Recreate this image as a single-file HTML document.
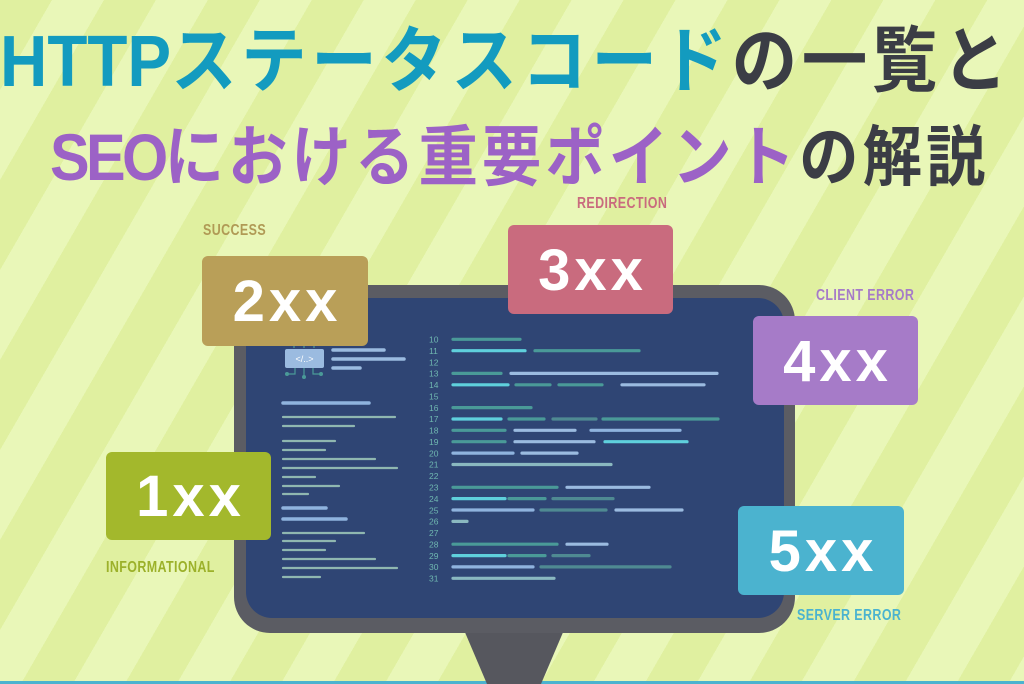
<!DOCTYPE html>
<html><head><meta charset="utf-8"><style>
html,body{margin:0;padding:0}
body{width:1024px;height:684px;overflow:hidden;position:relative;
background:repeating-linear-gradient(120deg,#e0f0a0 0px,#e0f0a0 45px,#e9f7b8 45px,#e9f7b8 90px);
font-family:"Liberation Sans","Noto Sans CJK JP",sans-serif}
.t{position:absolute;font-weight:bold;white-space:nowrap;font-family:"Liberation Sans","Noto Sans CJK JP",sans-serif;transform-origin:left top}
.lab{position:absolute;font-weight:bold;font-size:16px;white-space:nowrap;transform:scaleX(0.78);transform-origin:left top;letter-spacing:0.5px;font-family:"Liberation Sans Narrow","Liberation Sans",sans-serif}
.b{position:absolute;border-radius:6px;color:#fff;font-weight:bold;font-size:58px;text-align:center;font-family:"Liberation Sans",sans-serif;letter-spacing:4px;text-indent:4px}
</style></head><body>
<div class="t" style="left:0;top:2px;font-size:72px;color:#139bbf;transform:scaleX(0.91)">HTTP<span style="letter-spacing:5px">ステータスコード</span><span style="color:#3b3d45;letter-spacing:5px">の一覧と</span></div>
<div class="t" style="left:50px;top:104px;font-size:66px;color:#9c62c6;transform:scaleX(0.9)"><span style="letter-spacing:-4px">SEO</span><span style="letter-spacing:4.5px">における重要ポイント</span><span style="color:#3b3d45;letter-spacing:4.5px">の解説</span></div>

<svg style="position:absolute;left:0;top:0" width="1024" height="684">
<rect x="0" y="681" width="1024" height="3" fill="#4bb3cf"/>
<polygon points="464,630 564,630 541,684 487,684" fill="#56575e"/>
<rect x="234" y="285" width="561" height="348" rx="36" fill="#5b5c63"/>
<rect x="246" y="298" width="538" height="320" rx="26" fill="#2f4574"/>
<g stroke="#4a9a98" stroke-width="1.2" fill="none"><path d="M294,348 v-4 M304,348 v-4 M314,348 v-4 M295,368 v6 h-7 M304,368 v9 M313,368 v6 h7"/></g>
<circle cx="287" cy="374" r="2" fill="#4a9a98"/><circle cx="304" cy="377" r="2" fill="#4a9a98"/><circle cx="321" cy="374" r="2" fill="#4a9a98"/>
<rect x="285" y="349" width="39" height="19" rx="2" fill="#9bbbe0"/>
<text x="304.5" y="362" font-size="9" fill="#fff" text-anchor="middle" font-family="Liberation Sans">&lt;/..&gt;</text>
<g stroke-linecap="round" stroke-width="3.5">
<line x1="333" y1="350" x2="384" y2="350" stroke="#9bbbe0"/>
<line x1="333" y1="359" x2="404" y2="359" stroke="#9bbbe0"/>
<line x1="333" y1="368" x2="360" y2="368" stroke="#9bbbe0"/>
<line x1="283" y1="403" x2="369" y2="403" stroke="#8fb3de"/>
<line x1="283" y1="508" x2="326" y2="508" stroke="#8fb3de"/>
<line x1="283" y1="519" x2="346" y2="519" stroke="#8fb3de"/>
</g>
<g stroke-linecap="round" stroke-width="2.2" stroke="#8fb7b0">
<line x1="283" y1="417" x2="395" y2="417"/><line x1="283" y1="426" x2="354" y2="426"/>
<line x1="283" y1="441" x2="335" y2="441"/><line x1="283" y1="450" x2="325" y2="450"/>
<line x1="283" y1="459" x2="375" y2="459"/><line x1="283" y1="468" x2="397" y2="468"/>
<line x1="283" y1="477" x2="315" y2="477"/><line x1="283" y1="486" x2="339" y2="486"/>
<line x1="283" y1="494" x2="308" y2="494"/>
<line x1="283" y1="533" x2="364" y2="533"/><line x1="283" y1="541" x2="335" y2="541"/>
<line x1="283" y1="550" x2="325" y2="550"/><line x1="283" y1="559" x2="375" y2="559"/>
<line x1="283" y1="568" x2="397" y2="568"/><line x1="283" y1="577" x2="320" y2="577"/>
</g>
<g font-family="Liberation Sans Narrow,Liberation Sans" font-size="8.5" fill="#6fb7b0">
<text x="429" y="342.5">10</text><text x="429" y="354">11</text><text x="429" y="365.3">12</text><text x="429" y="376.7">13</text><text x="429" y="388">14</text><text x="429" y="399.4">15</text><text x="429" y="410.8">16</text><text x="429" y="422.2">17</text><text x="429" y="433.6">18</text><text x="429" y="445">19</text><text x="429" y="456.3">20</text><text x="429" y="467.7">21</text><text x="429" y="479.1">22</text><text x="429" y="490.5">23</text><text x="429" y="501.9">24</text><text x="429" y="513.3">25</text><text x="429" y="524.7">26</text><text x="429" y="536">27</text><text x="429" y="547.4">28</text><text x="429" y="558.8">29</text><text x="429" y="570.2">30</text><text x="429" y="581.6">31</text>
</g>
<g stroke-linecap="round" stroke-width="3.2">
<line x1="453" y1="339.3" x2="520" y2="339.3" stroke="#4a9a98"/>
<line x1="453" y1="350.7" x2="525" y2="350.7" stroke="#5fd0dc"/><line x1="535" y1="350.7" x2="639" y2="350.7" stroke="#4a9a98"/>
<line x1="453" y1="373.4" x2="501" y2="373.4" stroke="#4a9a98"/><line x1="511" y1="373.4" x2="717" y2="373.4" stroke="#9bbbe0"/>
<line x1="453" y1="384.8" x2="508" y2="384.8" stroke="#5fd0dc"/><line x1="516" y1="384.8" x2="550" y2="384.8" stroke="#4a9a98"/><line x1="559" y1="384.8" x2="602" y2="384.8" stroke="#4a9a98"/><line x1="622" y1="384.8" x2="704" y2="384.8" stroke="#9bbbe0"/>
<line x1="453" y1="407.6" x2="531" y2="407.6" stroke="#4a9a98"/>
<line x1="453" y1="419" x2="501" y2="419" stroke="#5fd0dc"/><line x1="509" y1="419" x2="544" y2="419" stroke="#4a9a98"/><line x1="553" y1="419" x2="596" y2="419" stroke="#4f8a92"/><line x1="603" y1="419" x2="718" y2="419" stroke="#4a9a98"/>
<line x1="453" y1="430.3" x2="505" y2="430.3" stroke="#4a9a98"/><line x1="515" y1="430.3" x2="575" y2="430.3" stroke="#9bbbe0"/><line x1="591" y1="430.3" x2="680" y2="430.3" stroke="#8fb3de"/>
<line x1="453" y1="441.7" x2="505" y2="441.7" stroke="#4a9a98"/><line x1="515" y1="441.7" x2="594" y2="441.7" stroke="#9bbbe0"/><line x1="605" y1="441.7" x2="687" y2="441.7" stroke="#5fd0dc"/>
<line x1="453" y1="453.1" x2="513" y2="453.1" stroke="#8fb3de"/><line x1="522" y1="453.1" x2="577" y2="453.1" stroke="#9bbbe0"/>
<line x1="453" y1="464.5" x2="611" y2="464.5" stroke="#8ab8c0"/>
<line x1="453" y1="487.3" x2="557" y2="487.3" stroke="#4a9a98"/><line x1="567" y1="487.3" x2="649" y2="487.3" stroke="#9bbbe0"/>
<line x1="453" y1="498.6" x2="505" y2="498.6" stroke="#5fd0dc"/><line x1="509" y1="498.6" x2="545" y2="498.6" stroke="#4a9a98"/><line x1="553" y1="498.6" x2="613" y2="498.6" stroke="#4f8a92"/>
<line x1="453" y1="510" x2="533" y2="510" stroke="#8fb3de"/><line x1="541" y1="510" x2="606" y2="510" stroke="#4f8a92"/><line x1="616" y1="510" x2="682" y2="510" stroke="#9bbbe0"/>
<line x1="453" y1="521.4" x2="467" y2="521.4" stroke="#8ab8c0"/>
<line x1="453" y1="544.2" x2="557" y2="544.2" stroke="#4a9a98"/><line x1="567" y1="544.2" x2="607" y2="544.2" stroke="#9bbbe0"/>
<line x1="453" y1="555.6" x2="505" y2="555.6" stroke="#5fd0dc"/><line x1="509" y1="555.6" x2="545" y2="555.6" stroke="#4a9a98"/><line x1="553" y1="555.6" x2="589" y2="555.6" stroke="#4f8a92"/>
<line x1="453" y1="566.9" x2="533" y2="566.9" stroke="#8fb3de"/><line x1="541" y1="566.9" x2="670" y2="566.9" stroke="#4f8a92"/>
<line x1="453" y1="578.3" x2="554" y2="578.3" stroke="#8ab8c0"/>
</g>
</svg>

<div class="b" style="left:202px;top:256px;width:166px;height:90px;line-height:92px;background:#b99f58">2xx</div>
<div class="b" style="left:508px;top:225px;width:165px;height:89px;line-height:91px;background:#c96b7e">3xx</div>
<div class="b" style="left:753px;top:316px;width:165px;height:89px;line-height:91px;background:#a67bc8">4xx</div>
<div class="b" style="left:106px;top:452px;width:165px;height:88px;line-height:90px;background:#a3b82c">1xx</div>
<div class="b" style="left:738px;top:506px;width:166px;height:89px;line-height:91px;background:#4bb3cf">5xx</div>

<div class="lab" style="left:203px;top:222px;color:#b09a55">SUCCESS</div>
<div class="lab" style="left:577px;top:195px;color:#c96b7e">REDIRECTION</div>
<div class="lab" style="left:816px;top:287px;color:#a67bc8">CLIENT ERROR</div>
<div class="lab" style="left:106px;top:559px;color:#9cb12a">INFORMATIONAL</div>
<div class="lab" style="left:797px;top:607px;color:#4bb3cf">SERVER ERROR</div>
</body></html>
